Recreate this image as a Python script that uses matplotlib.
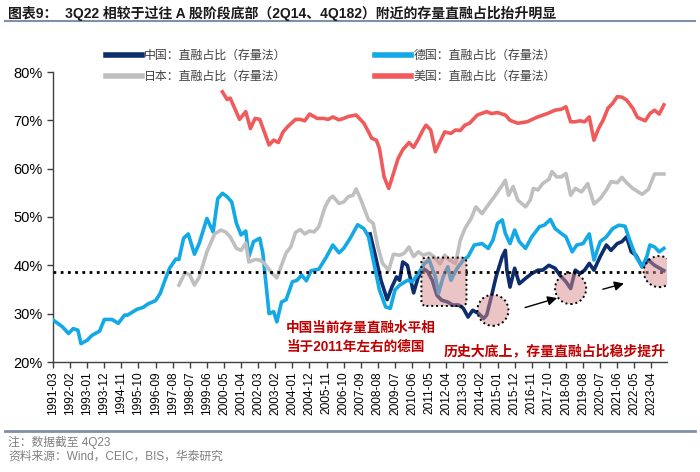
import matplotlib
matplotlib.use("Agg")
import matplotlib.pyplot as plt
from matplotlib.lines import Line2D
from matplotlib.patches import FancyBboxPatch
from matplotlib.transforms import IdentityTransform

plt.rcParams['font.family'] = ['Liberation Sans', 'Noto Sans CJK SC']
plt.rcParams['axes.unicode_minus'] = False

# ---- data (% of total financing, quarterly-ish points) ----
china_dates = ["2008-03", "2008-06", "2008-10", "2009-02", "2009-05", "2009-08", "2009-10",
               "2009-12", "2010-03", "2010-07", "2010-10", "2011-01", "2011-04", "2011-07",
               "2011-10", "2012-01", "2012-05", "2012-08", "2012-12", "2013-03", "2013-06",
               "2013-09", "2014-01", "2014-04", "2014-06", "2014-09", "2014-12", "2015-04",
               "2015-06", "2015-07", "2015-09", "2015-12", "2016-03", "2016-07", "2016-11",
               "2017-03", "2017-06", "2017-10", "2018-02", "2018-05", "2018-09", "2018-12",
               "2019-03", "2019-06", "2019-09", "2019-12", "2020-03", "2020-07", "2020-11",
               "2021-02", "2021-06", "2021-09", "2021-12", "2022-03", "2022-06", "2022-10",
               "2023-02", "2023-06", "2023-12"]
china_vals = [46.5, 42.5, 36.9, 32.9, 35.5, 37.6, 36.9,
              40.7, 40.0, 34.3, 37.6, 39.4, 38.7, 36.9,
              33.8, 32.8, 32.4, 31.8, 31.8, 31.1, 29.3,
              30.7, 30.0, 29.0, 29.7, 33.5, 37.6, 41.8,
              43.1, 39.0, 35.5, 39.4, 36.2, 37.3, 38.3,
              39.0, 39.0, 40.0, 39.4, 38.0, 36.6, 35.2,
              39.0, 38.3, 39.0, 40.4, 39.0, 41.8, 44.2,
              43.1, 44.5, 44.9, 45.9, 42.8, 42.1, 39.7,
              41.1, 40.0, 38.9]

germany_dates = ["1991-03", "1991-09", "1992-01", "1992-04", "1992-07", "1992-09", "1993-01",
                 "1993-04", "1993-09", "1993-12", "1994-05", "1994-09", "1995-01", "1995-03",
                 "1995-09", "1996-01", "1996-04", "1996-09", "1996-12", "1997-03", "1997-06",
                 "1997-10", "1997-12", "1998-03", "1998-06", "1998-10", "1999-01", "1999-04",
                 "1999-06", "1999-10", "2000-01", "2000-04", "2000-07", "2000-10", "2001-01",
                 "2001-04", "2001-07", "2001-09", "2001-12", "2002-04", "2002-06", "2002-10",
                 "2003-01", "2003-03", "2003-06", "2003-09", "2004-01", "2004-04", "2004-07",
                 "2004-10", "2005-01", "2005-06", "2005-11", "2006-03", "2006-07", "2006-10",
                 "2007-02", "2007-07", "2007-11", "2008-02", "2008-05", "2008-09", "2009-01",
                 "2009-04", "2009-07", "2009-10", "2010-03", "2010-06", "2010-10", "2011-02",
                 "2011-05", "2011-09", "2011-11", "2012-02", "2012-05", "2012-07", "2012-11",
                 "2013-03", "2013-06", "2013-10", "2014-03", "2014-07", "2014-10", "2015-01",
                 "2015-04", "2015-06", "2015-09", "2015-12", "2016-03", "2016-07", "2016-11",
                 "2017-04", "2017-07", "2017-11", "2018-02", "2018-06", "2018-09", "2019-01",
                 "2019-04", "2019-08", "2019-12", "2020-03", "2020-07", "2020-11", "2021-03",
                 "2021-07", "2021-11", "2022-02", "2022-06", "2022-10", "2023-01", "2023-03",
                 "2023-06", "2023-09", "2023-12"]
germany_vals = [28.7, 27.3, 25.9, 26.9, 26.6, 23.8, 24.5,
                25.5, 26.4, 28.8, 28.8, 28.0, 29.7, 29.7,
                30.9, 31.3, 32.0, 32.7, 34.2, 36.9, 39.4,
                41.3, 41.2, 45.6, 46.5, 42.3, 44.5, 47.6,
                49.7, 46.9, 53.8, 54.9, 54.2, 53.1, 48.7,
                46.3, 47.1, 41.8, 44.9, 45.6, 42.5, 30.0,
                30.4, 28.3, 32.4, 32.9, 36.6, 36.9, 38.0,
                36.8, 38.9, 39.2, 41.8, 44.2, 42.6, 43.5,
                45.5, 48.4, 47.6, 45.9, 41.1, 34.9, 31.4,
                31.1, 34.9, 35.9, 36.9, 36.6, 38.3, 40.4,
                41.1, 37.6, 34.2, 37.6, 39.7, 36.9, 39.4,
                41.1, 41.8, 44.2, 44.5, 43.5, 45.2, 48.7,
                49.4, 46.6, 44.5, 47.3, 44.9, 43.5, 45.9,
                48.0, 48.3, 49.5, 47.6, 46.6, 45.9, 42.8,
                44.2, 44.5, 46.5, 41.1, 44.9, 45.9, 47.6,
                48.3, 48.1, 45.2, 41.8, 39.7, 41.8, 44.2,
                43.8, 42.8, 43.5]

japan_dates = ["1997-12", "1998-04", "1998-07", "1998-10", "1999-01", "1999-06", "1999-11",
               "2000-03", "2000-06", "2000-09", "2001-01", "2001-04", "2001-07", "2001-09",
               "2002-01", "2002-04", "2002-07", "2002-12", "2003-03", "2003-06", "2003-09",
               "2003-12", "2004-03", "2004-06", "2004-09", "2004-12", "2005-03", "2005-06",
               "2005-10", "2006-01", "2006-03", "2006-07", "2006-10", "2007-01", "2007-04",
               "2007-06", "2007-09", "2008-02", "2008-05", "2008-08", "2008-11", "2009-03",
               "2009-06", "2009-10", "2010-01", "2010-04", "2010-07", "2010-10", "2011-01",
               "2011-05", "2011-08", "2011-12", "2012-03", "2012-06", "2012-10", "2013-01",
               "2013-04", "2013-08", "2013-11", "2014-03", "2014-07", "2014-10", "2015-03",
               "2015-06", "2015-08", "2015-11", "2016-02", "2016-07", "2016-10", "2016-12",
               "2017-03", "2017-06", "2017-10", "2017-12", "2018-03", "2018-06", "2018-09",
               "2018-12", "2019-03", "2019-07", "2019-11", "2020-03", "2020-07", "2020-11",
               "2021-02", "2021-06", "2021-09", "2021-12", "2022-04", "2022-10", "2023-02",
               "2023-06", "2023-12"]
japan_vals = [35.9, 38.5, 38.0, 35.9, 37.5, 42.8, 46.5,
              47.3, 46.9, 45.9, 43.5, 43.1, 44.6, 40.7,
              41.2, 41.1, 40.4, 38.3, 37.4, 40.0, 42.6,
              43.8, 46.8, 47.4, 46.5, 47.1, 46.9, 48.0,
              52.1, 53.8, 54.3, 52.8, 53.1, 54.2, 54.5,
              55.8, 53.6, 49.4, 48.7, 43.8, 40.4, 39.0,
              42.3, 42.1, 42.5, 43.8, 41.8, 42.8, 42.1,
              42.5, 41.8, 40.3, 42.1, 41.1, 40.4, 45.2,
              47.6, 49.7, 52.1, 50.7, 52.5, 53.8, 56.1,
              57.6, 54.5, 56.3, 53.5, 52.1, 53.5, 55.9,
              55.6, 56.9, 57.8, 59.4, 58.3, 58.3, 59.0,
              54.5, 55.9, 55.2, 56.9, 52.7, 53.8, 55.6,
              57.3, 57.1, 58.2, 57.1, 55.9, 54.7, 55.7,
              58.9, 58.9]

us_dates = ["2000-04", "2000-07", "2000-09", "2001-03", "2001-07", "2001-10", "2002-01",
            "2002-04", "2002-10", "2003-01", "2003-04", "2003-07", "2003-10", "2004-03",
            "2004-06", "2004-09", "2004-12", "2005-05", "2005-09", "2005-12", "2006-03",
            "2006-07", "2006-10", "2007-01", "2007-06", "2007-11", "2008-02", "2008-04",
            "2008-07", "2008-09", "2008-12", "2009-03", "2009-06", "2009-09", "2009-12",
            "2010-04", "2010-07", "2010-10", "2011-01", "2011-03", "2011-06", "2011-09",
            "2011-12", "2012-03", "2012-07", "2012-10", "2013-01", "2013-04", "2013-07",
            "2013-12", "2014-06", "2014-09", "2015-01", "2015-06", "2015-09", "2016-02",
            "2016-08", "2017-02", "2017-09", "2018-02", "2018-06", "2018-09", "2018-12",
            "2019-03", "2019-06", "2019-09", "2019-12", "2020-03", "2020-06", "2020-09",
            "2020-12", "2021-03", "2021-06", "2021-09", "2021-12", "2022-04", "2022-07",
            "2022-12", "2023-03", "2023-06", "2023-09", "2023-12"]
us_vals = [75.9, 74.3, 74.6, 70.2, 71.8, 68.3, 70.4,
           70.2, 64.9, 65.9, 65.4, 67.6, 68.7, 70.2,
           70.2, 69.9, 71.3, 70.4, 70.4, 70.2, 70.7,
           70.1, 70.4, 70.8, 71.1, 69.4, 67.6, 66.3,
           65.9, 64.2, 58.3, 55.9, 59.0, 62.1, 63.9,
           65.4, 64.4, 66.1, 68.0, 69.0, 68.0, 63.5,
           65.6, 67.6, 67.3, 68.0, 67.9, 69.0, 69.4,
           71.1, 71.8, 71.4, 71.6, 71.1, 70.0, 69.4,
           69.7, 70.6, 71.4, 72.1, 72.3, 72.8, 69.7,
           69.7, 69.9, 69.7, 70.7, 65.9, 68.3, 70.1,
           72.5, 73.5, 74.9, 74.8, 74.2, 72.5, 70.6,
           69.9, 71.4, 72.1, 71.3, 73.2]

labels = ["中国：直融占比（存量法）", "德国：直融占比（存量法）",
          "日本：直融占比（存量法）", "美国：直融占比（存量法）"]
colors = ["#0D2D6C", "#12A9E6", "#BFBFBF", "#F05A5B"]
ref_level = 38.6  # 中国当前水平

y_ticks = [20, 30, 40, 50, 60, 70, 80]
first_month = "1991-03"
tick_step = 11  # months between x labels


def month_idx(s):
    y, m = map(int, s.split("-"))
    fy, fm = map(int, first_month.split("-"))
    return (y - fy) * 12 + (m - fm)


def month_label(i):
    fy, fm = map(int, first_month.split("-"))
    t = fy * 12 + fm - 1 + i
    return f"{t // 12}-{t % 12 + 1:02d}"


W, H = 700, 472
fig = plt.figure(figsize=(W / 100, H / 100), dpi=100)
ax = fig.add_axes([53 / W, 1 - 362 / H, (667 - 53) / W, (362 - 72) / H])

series = [(china_dates, china_vals), (germany_dates, germany_vals),
          (japan_dates, japan_vals), (us_dates, us_vals)]
handles = []
for (d, v), lab, c in zip(series, labels, colors):
    x = [month_idx(s) for s in d]
    ln, = ax.plot(x, v, color=c, lw=2.6, solid_joinstyle="round", label=lab, zorder=3)
    handles.append(ln)

x_end = 395
ax.set_xlim(0, x_end)
ax.set_ylim(20, 80)

# dotted reference line
ax.plot([0, month_idx("2023-12")], [ref_level, ref_level], color="black",
        lw=2, linestyle=(0, (1, 1.6)), zorder=4)

# ticks
xt = list(range(0, month_idx("2023-12") + 1, tick_step))
ax.set_xticks(xt)
ax.set_xticklabels([month_label(i) for i in xt], rotation=90, fontsize=8.6)
ax.set_yticks(y_ticks)
ax.set_yticklabels([f"{t}%" for t in y_ticks], fontsize=10.5)
ax.tick_params(axis="both", direction="out", length=4, width=1, color="#404040")
ax.tick_params(axis="x", pad=3)
for sp in ["top", "right"]:
    ax.spines[sp].set_visible(False)
for sp in ["left", "bottom"]:
    ax.spines[sp].set_color("#404040")
    ax.spines[sp].set_linewidth(1)

fig.canvas.draw()
pink = (0.85, 0.55, 0.55, 0.5)

# rounded box around 2011-2013 (drawn in pixel space so the corners stay round)
(x0, y0) = ax.transData.transform((month_idx("2010-12"), 31.6))
(x1, y1) = ax.transData.transform((month_idx("2013-05"), 41.6))
box = FancyBboxPatch((x0, y0), x1 - x0, y1 - y0, boxstyle="round,pad=0,rounding_size=5",
                     transform=IdentityTransform(), facecolor=pink, edgecolor="black",
                     lw=1.4, linestyle=(0, (1, 1.5)), zorder=5)
fig.add_artist(box)

# circles on the lows
circ_dates = ["2014-10", "2018-12", "2023-09"]
circ_vals = [30.7, 35.2, 38.7]
ax.scatter([month_idx(s) for s in circ_dates], circ_vals, s=500, facecolors=[pink],
           edgecolors="black", linewidths=1.4, linestyles=(0, (1, 1.5)), zorder=5)

# arrows
arrow_kw = dict(arrowstyle="-|>", color="black", lw=1, mutation_scale=14)
ax.annotate("", xy=(month_idx("2018-05"), 33.4), xytext=(month_idx("2016-05"), 31.1),
            arrowprops=arrow_kw, zorder=6)
ax.annotate("", xy=(month_idx("2021-12"), 36.4), xytext=(month_idx("2020-07"), 34.9),
            arrowprops=arrow_kw, zorder=6)

red = "#C00000"
ax.text(month_idx("2003-09"), 25.2, "中国当前存量直融水平相\n当于2011年左右的德国", color=red,
        fontsize=9.8, fontweight="bold", va="center", ha="left", linespacing=1.45, zorder=6)
ax.text(month_idx("2012-02"), 22.2, "历史大底上，存量直融占比稳步提升", color=red,
        fontsize=10, fontweight="bold", va="center", ha="left", zorder=6)

# legend: column-wise fill -> rows 中国/德国 and 日本/美国
leg_order = [0, 2, 1, 3]
fig.legend(handles=[handles[i] for i in leg_order], labels=[labels[i] for i in leg_order],
           ncol=2, frameon=False, fontsize=8.6,
           loc="upper left", bbox_to_anchor=(100 / W, 1 - 44 / H),
           handlelength=3.0, handletextpad=0.2, columnspacing=7.4, labelspacing=0.75,
           borderpad=0, labelcolor="#404040")
for lh in fig.legends[0].get_lines():
    lh.set_linewidth(4)

# title, frame lines, notes
fig.text(8 / W, 1 - 13 / H, "图表9：  3Q22 相较于过往 A 股阶段底部（2Q14、4Q182）附近的存量直融占比抬升明显",
         fontsize=10, fontweight="bold", va="center", ha="left", color="#1A1A1A")
fig.add_artist(Line2D([5 / W, 695 / W], [1 - 21 / H] * 2, color="#8090A8", lw=1.5))
fig.add_artist(Line2D([5 / W, 695 / W], [1 - 431 / H] * 2, color="#8090A8", lw=2))
fig.text(8 / W, 1 - 442 / H, "注：数据截至 4Q23", fontsize=8.5, color="#808080", va="center")
fig.text(8 / W, 1 - 457 / H, "资料来源：Wind，CEIC，BIS，华泰研究", fontsize=8.5,
         color="#808080", va="center")

fig.savefig("out.png", dpi=100)
